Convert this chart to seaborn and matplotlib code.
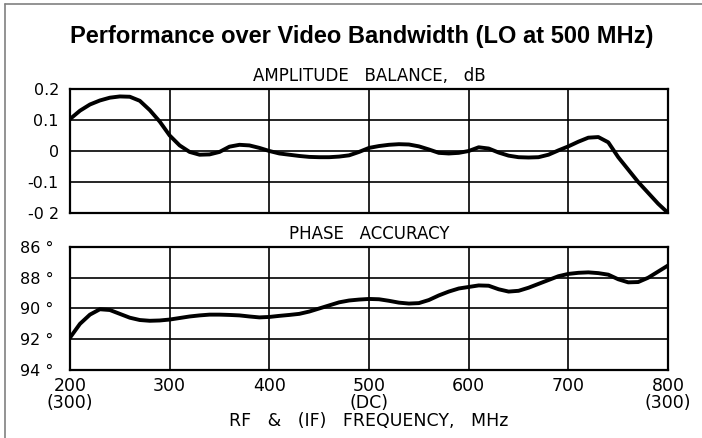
import matplotlib
matplotlib.use("Agg")
import matplotlib.pyplot as plt
import seaborn as sns
import pandas as pd
from matplotlib.lines import Line2D

# frequency axis (RF, MHz), sampled every 10 MHz
freq = [200, 210, 220, 230, 240, 250, 260, 270, 280, 290,
        300, 310, 320, 330, 340, 350, 360, 370, 380, 390,
        400, 410, 420, 430, 440, 450, 460, 470, 480, 490,
        500, 510, 520, 530, 540, 550, 560, 570, 580, 590,
        600, 610, 620, 630, 640, 650, 660, 670, 680, 690,
        700, 710, 720, 730, 740, 750, 760, 770, 780, 790, 800]

# amplitude balance, dB
amp_db = [0.103, 0.13, 0.15, 0.163, 0.172, 0.176, 0.175, 0.162, 0.132, 0.095,
          0.05, 0.018, -0.003, -0.012, -0.011, -0.003, 0.014, 0.02, 0.018, 0.01,
          0.0, -0.008, -0.012, -0.016, -0.019, -0.02, -0.02, -0.018, -0.014, -0.003,
          0.01, 0.016, 0.02, 0.022, 0.021, 0.015, 0.005, -0.006, -0.008, -0.006,
          0.0, 0.012, 0.008, -0.005, -0.015, -0.02, -0.021, -0.02, -0.012, 0.002,
          0.015, 0.03, 0.043, 0.045, 0.028, -0.02, -0.06, -0.1, -0.135, -0.17, -0.2]

# phase accuracy, degrees
phase_deg = [91.9, 91.0, 90.4, 90.05, 90.1, 90.35, 90.6, 90.75, 90.8, 90.78,
             90.72, 90.62, 90.52, 90.45, 90.4, 90.4, 90.42, 90.45, 90.52, 90.58,
             90.55, 90.48, 90.42, 90.35, 90.2, 90.0, 89.8, 89.6, 89.48, 89.42,
             89.38, 89.4, 89.5, 89.62, 89.68, 89.65, 89.45, 89.15, 88.9, 88.7,
             88.6, 88.5, 88.52, 88.75, 88.9, 88.85, 88.65, 88.4, 88.15, 87.9,
             87.75, 87.68, 87.65, 87.7, 87.8, 88.1, 88.3, 88.28, 88.0, 87.6, 87.2]

x_ticks = [200, 300, 400, 500, 600, 700, 800]
x_labels = ["200\n(300)", "300", "400", "500\n(DC)", "600", "700", "800\n(300)"]
amp_ticks = [0.2, 0.1, 0, -0.1, -0.2]
amp_labels = ["0.2", "0.1", "0", "-0.1", "-0 2"]
phase_ticks = [86, 88, 90, 92, 94]
phase_labels = ["86 °", "88 °", "90 °", "92 °", "94 °"]

df = pd.DataFrame({"freq": freq, "amp": amp_db, "phase": phase_deg})

sns.set_style("white")
plt.rcParams["font.family"] = ["DejaVu Sans"]
plt.rcParams["text.color"] = "black"
plt.rcParams["xtick.color"] = "black"
plt.rcParams["ytick.color"] = "black"
plt.rcParams["axes.labelcolor"] = "black"

fig = plt.figure(figsize=(7.02, 4.38), dpi=100)
ax1 = fig.add_axes([0.0997, 0.5137, 0.852, 0.2831])
ax2 = fig.add_axes([0.0997, 0.1553, 0.852, 0.2808])

sns.lineplot(data=df, x="freq", y="amp", ax=ax1, color="black", linewidth=2.8)
sns.lineplot(data=df, x="freq", y="phase", ax=ax2, color="black", linewidth=2.8)

for ax in (ax1, ax2):
    ax.set_xlim(200, 800)
    ax.set_xticks(x_ticks)
    ax.grid(True, color="black", linewidth=1.2)
    ax.tick_params(length=0)
    for s in ax.spines.values():
        s.set_color("black")
        s.set_linewidth(1.6)
    ax.set_xlabel("")
    ax.set_ylabel("")
    for line in ax.get_lines():
        line.set_solid_joinstyle("round")
        line.set_solid_capstyle("round")

ax1.set_ylim(-0.2, 0.2)
ax1.set_yticks(amp_ticks)
ax1.set_yticklabels(amp_labels, fontsize=11.5)
ax1.set_xticklabels([])
ax1.tick_params(axis="y", pad=8)
ax1.text(0.5, 1.035, "AMPLITUDE   BALANCE,   dB", transform=ax1.transAxes,
         ha="center", va="bottom", fontsize=12)

ax2.set_ylim(94, 86)
ax2.set_yticks(phase_ticks)
ax2.set_yticklabels(phase_labels, fontsize=11.5)
ax2.set_xticklabels(x_labels, fontsize=12.5, linespacing=0.95)
ax2.tick_params(axis="y", pad=12)
ax2.tick_params(axis="x", pad=5)
ax2.text(0.5, 1.035, "PHASE   ACCURACY", transform=ax2.transAxes,
         ha="center", va="bottom", fontsize=12)
ax2.set_xlabel("RF   &   (IF)   FREQUENCY,   MHz", fontsize=12.5, labelpad=0)

fig.text(0.515, 0.917, "Performance over Video Bandwidth (LO at 500 MHz)",
         ha="center", va="center", fontsize=17, fontweight="bold",
         family="Liberation Sans")

# frame around the picture (top and left edges visible)
fig.add_artist(Line2D([0.007, 1.0], [0.99, 0.99], transform=fig.transFigure,
                      color="#808080", linewidth=1.2))
fig.add_artist(Line2D([0.007, 0.007], [0.0, 0.99], transform=fig.transFigure,
                      color="#808080", linewidth=1.2))

fig.savefig("out.png", dpi=100)
